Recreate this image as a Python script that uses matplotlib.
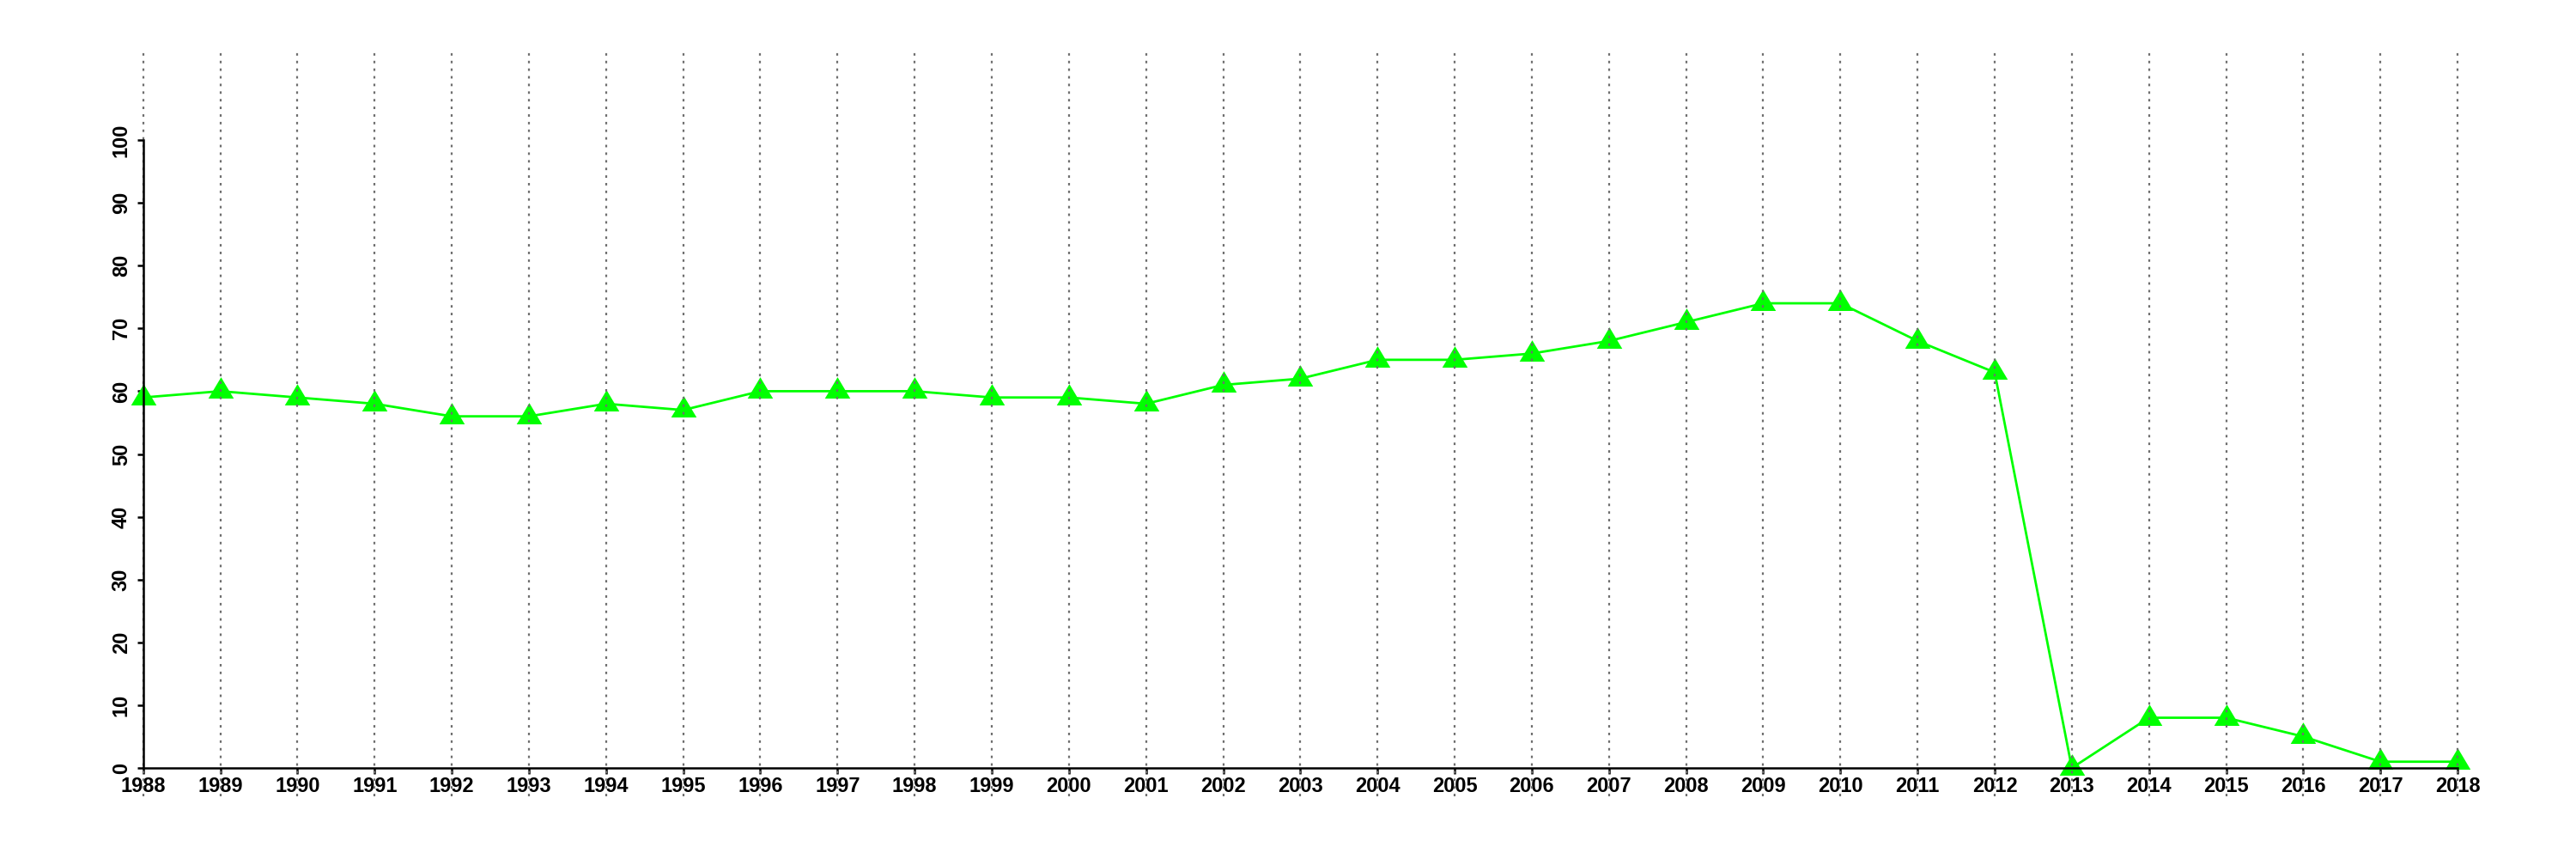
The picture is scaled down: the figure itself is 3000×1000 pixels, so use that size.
import matplotlib
matplotlib.use("Agg")
import matplotlib.pyplot as plt
from matplotlib.path import Path
import numpy as np

years = list(range(1988, 2019))
values = [59, 60, 59, 58, 56, 56, 58, 57, 60, 60, 60, 59, 59, 58, 61, 62, 65, 65,
          66, 68, 71, 74, 74, 68, 63, 0, 8, 8, 5, 1, 1]
yticks = [0, 10, 20, 30, 40, 50, 60, 70, 80, 90, 100]

plt.rcParams['font.family'] = ['Liberation Sans', 'DejaVu Sans']

fig = plt.figure(figsize=(30, 10), dpi=100)
ax = fig.add_axes([0.0406, 0.073, 0.969 - 0.0406, 0.94 - 0.073])
ax.set_xlim(1987.5, 2018.5)
ax.set_ylim(-4.51, 114.09)

# R-style filled triangle (centred on centroid)
tri = Path([(0, 1), (-0.906, -0.52), (0.906, -0.52), (0, 1)],
           [Path.MOVETO, Path.LINETO, Path.LINETO, Path.CLOSEPOLY])

ax.plot(years, values, color='#00ff00', lw=2.0, marker=tri, ms=23.5,
        markerfacecolor='#00ff00', markeredgewidth=0, clip_on=False, zorder=3)

for yr in years:
    ax.axvline(yr, color='#6e6e6e', lw=1.6, linestyle=(0, (1.3, 2.7)), zorder=4)

for s in ['top', 'right']:
    ax.spines[s].set_visible(False)
ax.spines['left'].set_position(('data', 1988))
ax.spines['bottom'].set_position(('data', 0))
ax.spines['left'].set_bounds(0, 100)
ax.spines['bottom'].set_bounds(1988, 2018)
for s in ['left', 'bottom']:
    ax.spines[s].set_linewidth(1.8)
    ax.spines[s].set_zorder(5)

ax.set_xticks(years)
ax.set_xticklabels([str(y) for y in years])
ax.set_yticks(yticks)
ax.set_yticklabels([str(v) for v in yticks], rotation=90, va='center')
ax.tick_params(axis='both', length=5, width=1.8, labelsize=17)
ax.tick_params(axis='x', pad=2)
ax.tick_params(axis='y', pad=5)
for lab in ax.get_xticklabels() + ax.get_yticklabels():
    lab.set_fontweight('bold')

fig.savefig('out.png', dpi=100)
